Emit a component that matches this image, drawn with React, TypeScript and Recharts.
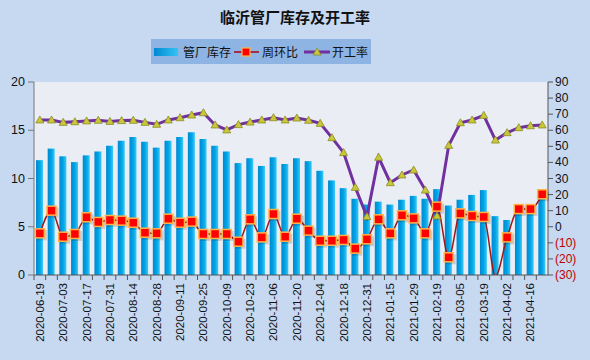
import React from 'react'
import { ComposedChart, Bar, Line, XAxis, YAxis, CartesianGrid } from 'recharts'

const dates = [
    '2020-06-19', '2020-06-26', '2020-07-03', '2020-07-10', '2020-07-17', '2020-07-24', '2020-07-31', '2020-08-07',
    '2020-08-14', '2020-08-21', '2020-08-28', '2020-09-04', '2020-09-11', '2020-09-18', '2020-09-25', '2020-09-30',
    '2020-10-09', '2020-10-16', '2020-10-23', '2020-10-30', '2020-11-06', '2020-11-13', '2020-11-20', '2020-11-27',
    '2020-12-04', '2020-12-11', '2020-12-18', '2020-12-25', '2020-12-31', '2021-01-08', '2021-01-15', '2021-01-22',
    '2021-01-29', '2021-02-05', '2021-02-19', '2021-02-26', '2021-03-05', '2021-03-12', '2021-03-19', '2021-03-26',
    '2021-04-02', '2021-04-09', '2021-04-16', '2021-04-23'
]

// 管厂库存
const inventory = [
    11.9, 13.1, 12.3, 11.7, 12.4, 12.8, 13.4, 13.9, 14.3, 13.8, 13.2, 13.9, 14.3, 14.8, 14.1, 13.4,
    12.8, 11.6, 12.1, 11.3, 12.2, 11.5, 12.1, 11.8, 10.8, 9.8, 9.0, 7.9, 7.3, 7.6, 7.3, 7.8,
    8.2, 7.9, 8.9, 7.2, 7.8, 8.3, 8.8, 6.1, 5.7, 6.4, 7.0, 8.3
]

// 周环比 (%)
const weekChange = [
    -4.1, 10.0, -6.2, -4.5, 5.9, 3.0, 4.2, 3.8, 2.5, -3.7, -4.1, 5.0, 2.5, 3.2, -4.5, -4.5,
    -4.5, -9.3, 4.6, -6.6, 7.9, -6.2, 5.0, -2.4, -8.7, -8.7, -8.2, -13.6, -7.8, 4.6, -4.1, 7.1,
    5.2, -4.1, 12.5, -19.0, 8.3, 6.7, 6.1, -30.7, -6.6, 11.0, 11.0, 20.2
]

// 开工率 (%)
const utilization = [
    66.4, 66.4, 64.9, 65.3, 65.8, 66.2, 65.5, 66.0, 66.2, 64.9, 63.7, 66.4, 67.8, 69.5, 70.9, 63.3,
    60.2, 63.5, 65.1, 66.4, 67.8, 66.4, 67.6, 66.2, 64.3, 55.4, 46.1, 24.5, 6.3, 43.2, 27.4, 32.2,
    35.3, 22.8, 6.7, 50.6, 64.7, 66.4, 69.3, 53.9, 58.5, 61.6, 62.8, 63.3
]

const leftTicks = [0, 5, 10, 15, 20]
const rightTicks = [-30, -20, -10, 0, 10, 20, 30, 40, 50, 60, 70, 80, 90]

const data = dates.map((d, i) => ({
    date: d,
    inventory: inventory[i],
    change: weekChange[i],
    rate: utilization[i],
}))

const W = 590
const H = 360
const PLOT_LEFT = 34
const PLOT_RIGHT = 548
const BAND = (PLOT_RIGHT - PLOT_LEFT) / dates.length
const FONT = '"Liberation Sans", Arial, sans-serif'
const CJK = '"Noto Sans CJK SC", sans-serif'

const DateTick = ({ x, y, payload }: any) => (
    <g transform={`translate(${x},${y})`}>
        <line x1={-BAND / 2} y1={0} x2={-BAND / 2} y2={5} stroke="#555" />
        <line x1={BAND / 2} y1={0} x2={BAND / 2} y2={5} stroke="#555" />
        <text
            transform="rotate(-90)"
            x={-8}
            y={4}
            textAnchor="end"
            fontSize={11.5}
            fontFamily={FONT}
            fill="#111"
        >
            {payload.value}
        </text>
    </g>
)

const LeftTick = ({ x, y, payload }: any) => (
    <text x={x} y={y + 4} textAnchor="end" fontSize={12.5} fontFamily={FONT} fill="#111">
        {payload.value}
    </text>
)

const RightTick = ({ x, y, payload }: any) => {
    const v = payload.value
    const neg = v < 0
    return (
        <text x={x} y={y + 4} textAnchor="start" fontSize={12} fontFamily={FONT} fill={neg ? '#C00000' : '#111'}>
            {neg ? `(${Math.abs(v)})` : v}
        </text>
    )
}

// markers outside the right axis range are not drawn
const SquareDot = ({ cx, cy, index, value }: any) => {
    if (cx == null || cy == null || value < -30) return <g key={`sq-${index}`} />
    return (
        <g key={`sq-${index}`}>
            <rect x={cx - 3} y={cy - 3} width={10} height={10} fill="#000" opacity={0.15} />
            <rect x={cx - 4.5} y={cy - 4.5} width={9} height={9} fill="#FF0000" stroke="#FFB347" strokeWidth={1.5} />
        </g>
    )
}

const TriDot = ({ cx, cy, index }: any) => {
    if (cx == null || cy == null) return <g key={`tri-${index}`} />
    return (
        <polygon
            key={`tri-${index}`}
            points={`${cx},${cy - 4} ${cx - 4},${cy + 3} ${cx + 4},${cy + 3}`}
            fill="#C8C83A"
            stroke="#8C8C20"
            strokeWidth={0.8}
        />
    )
}

function ChartLegend() {
    const sw = { flexShrink: 0 }
    return (
        <div style={{
            position: 'absolute', left: 151, top: 39, width: 220, height: 25,
            background: '#8DB4E2', display: 'flex', alignItems: 'center', whiteSpace: 'nowrap',
            fontFamily: CJK, fontSize: 12, color: '#111', paddingLeft: 3, boxSizing: 'border-box'
        }}>
            <svg width={26} height={10} style={{ ...sw, marginRight: 3 }}>
                <defs>
                    <linearGradient id="legBar" x1="0" y1="0" x2="1" y2="0">
                        <stop offset="0%" stopColor="#0088D2" />
                        <stop offset="100%" stopColor="#33C4F5" />
                    </linearGradient>
                </defs>
                <rect x={0} y={1} width={24} height={8} fill="url(#legBar)" />
            </svg>
            <span style={{ ...sw, marginRight: 3 }}>管厂库存</span>
            <svg width={26} height={12} style={{ ...sw, marginRight: 2 }}>
                <line x1={0} y1={6} x2={25} y2={6} stroke="#A0304A" strokeWidth={2} />
                <rect x={8} y={2} width={8} height={8} fill="#FF0000" stroke="#FFB347" strokeWidth={1.2} />
            </svg>
            <span style={{ ...sw, marginRight: 6 }}>周环比</span>
            <svg width={26} height={12} style={{ ...sw, marginRight: 2 }}>
                <line x1={0} y1={6} x2={26} y2={6} stroke="#7030A0" strokeWidth={3} />
                <polygon points="13,2 9,9 17,9" fill="#C8C83A" stroke="#8C8C20" strokeWidth={0.8} />
            </svg>
            <span style={sw}>开工率</span>
        </div>
    )
}

export default function App() {
    return (
        <div style={{ position: 'absolute', left: 0, top: 0, width: W, height: H, background: '#C6D9F1', overflow: 'hidden' }}>
            <div style={{
                position: 'absolute', left: 0, top: 6, width: W, textAlign: 'center',
                fontFamily: CJK, fontWeight: 'bold', fontSize: 15, color: '#111'
            }}>
                临沂管厂库存及开工率
            </div>
            <ChartLegend />
            <ComposedChart
                width={W}
                height={H}
                data={data}
                margin={{ top: 82, right: 0, bottom: 0, left: 0 }}
            >
                <defs>
                    <linearGradient id="barFill" x1="0" y1="0" x2="1" y2="0">
                        <stop offset="0%" stopColor="#0088D2" />
                        <stop offset="55%" stopColor="#00A6E6" />
                        <stop offset="100%" stopColor="#3FC8F7" />
                    </linearGradient>
                </defs>
                <CartesianGrid horizontal={false} vertical={false} fill="#EAEEF4" />
                <XAxis
                    dataKey="date"
                    interval={1}
                    height={85}
                    tickSize={0}
                    tickMargin={0}
                    tickLine={false}
                    axisLine={{ stroke: '#555' }}
                    tick={<DateTick />}
                />
                <YAxis
                    yAxisId="left"
                    width={PLOT_LEFT}
                    domain={[0, 20]}
                    ticks={leftTicks}
                    interval={0}
                    tickSize={6}
                    tickMargin={3}
                    axisLine={{ stroke: '#777' }}
                    tickLine={{ stroke: '#777' }}
                    tick={<LeftTick />}
                />
                <YAxis
                    yAxisId="right"
                    orientation="right"
                    width={W - PLOT_RIGHT}
                    domain={[-30, 90]}
                    ticks={rightTicks}
                    interval={0}
                    allowDataOverflow
                    tickSize={5}
                    tickMargin={2}
                    axisLine={{ stroke: '#555' }}
                    tickLine={{ stroke: '#555' }}
                    tick={<RightTick />}
                />
                <Bar yAxisId="left" dataKey="inventory" barSize={7} fill="url(#barFill)" isAnimationActive={false} />
                <Line
                    yAxisId="right"
                    type="monotone"
                    dataKey="change"
                    stroke="#A01818"
                    strokeWidth={1.5}
                    dot={<SquareDot />}
                    activeDot={false}
                    isAnimationActive={false}
                />
                <Line
                    yAxisId="right"
                    type="linear"
                    dataKey="rate"
                    stroke="#7030A0"
                    strokeWidth={3}
                    dot={<TriDot />}
                    activeDot={false}
                    isAnimationActive={false}
                />
            </ComposedChart>
        </div>
    )
}
